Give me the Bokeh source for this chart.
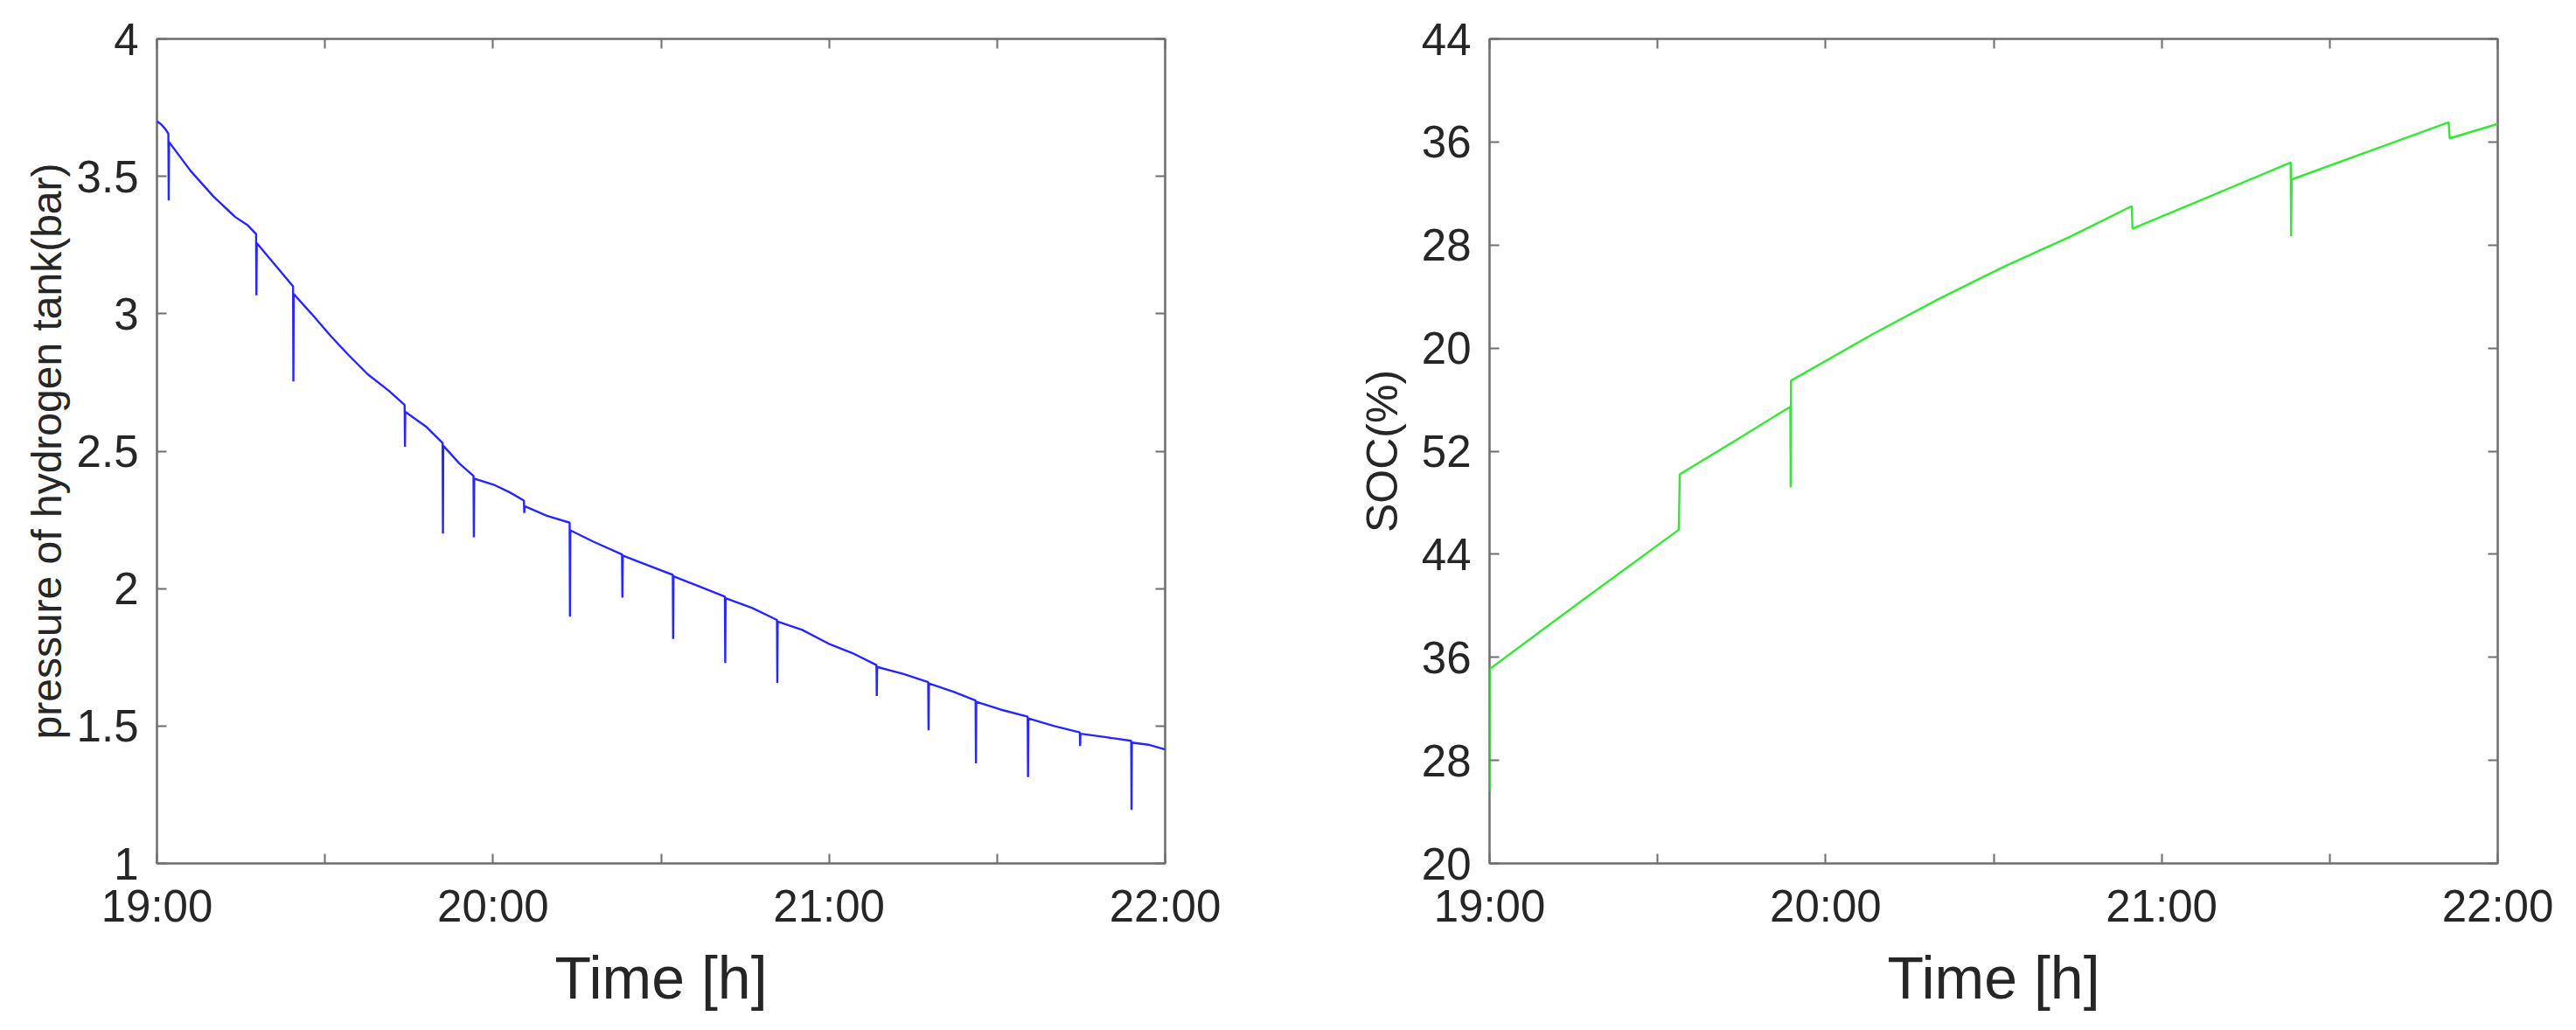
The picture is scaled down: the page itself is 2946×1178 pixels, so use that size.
from bokeh.plotting import figure
from bokeh.layouts import row
from bokeh.models import FixedTicker, LinearAxis, Range1d
from bokeh.embed import file_html
from bokeh.resources import INLINE

# ---------------- data ----------------
time_ticks = [19, 20, 21, 22]
time_labels = ["19:00", "20:00", "21:00", "22:00"]
time_half_ticks = [19.5, 20.5, 21.5]

pressure_ticks = [1, 1.5, 2, 2.5, 3, 3.5, 4]
pressure_labels = ["1", "1.5", "2", "2.5", "3", "3.5", "4"]

soc_ticks = [20, 28, 36, 44, 52, 60, 68, 76, 84]
soc_labels = ["20", "28", "36", "44", "52", "20", "28", "36", "44"]

# time in hours, pressure in bar (vertical spikes included as repeated times)
pressure_time = [
    19.000, 19.012, 19.025, 19.034, 19.035, 19.036, 19.100, 19.168, 19.232, 19.270,
    19.295, 19.296, 19.297, 19.350, 19.405, 19.406, 19.407, 19.460, 19.517, 19.570,
    19.627, 19.690, 19.737, 19.738, 19.739, 19.800, 19.850, 19.851, 19.852, 19.900,
    19.942, 19.943, 19.944, 20.006, 20.050, 20.092, 20.093, 20.094, 20.160, 20.228,
    20.229, 20.230, 20.300, 20.384, 20.385, 20.386, 20.460, 20.535, 20.536, 20.537,
    20.610, 20.690, 20.691, 20.692, 20.770, 20.845, 20.846, 20.847, 20.920, 20.998,
    21.070, 21.141, 21.142, 21.143, 21.220, 21.295, 21.296, 21.297, 21.370, 21.436,
    21.437, 21.438, 21.510, 21.591, 21.592, 21.593, 21.670, 21.746, 21.747, 21.748,
    21.820, 21.899, 21.900, 21.901, 21.950, 22.000,
]
pressure_bar = [
    3.700, 3.690, 3.672, 3.655, 3.412, 3.625, 3.520, 3.427, 3.353, 3.322,
    3.290, 3.067, 3.257, 3.180, 3.100, 2.754, 3.072, 3.000, 2.919, 2.850,
    2.780, 2.720, 2.668, 2.516, 2.643, 2.590, 2.530, 2.200, 2.520, 2.455,
    2.410, 2.187, 2.400, 2.376, 2.350, 2.320, 2.275, 2.300, 2.265, 2.240,
    1.898, 2.212, 2.170, 2.124, 1.967, 2.120, 2.085, 2.050, 1.817, 2.045,
    2.010, 1.971, 1.729, 1.965, 1.930, 1.886, 1.657, 1.880, 1.850, 1.800,
    1.765, 1.722, 1.609, 1.715, 1.690, 1.660, 1.484, 1.655, 1.625, 1.593,
    1.364, 1.588, 1.560, 1.534, 1.314, 1.528, 1.500, 1.477, 1.427, 1.472,
    1.460, 1.446, 1.195, 1.440, 1.432, 1.415,
]

# SOC in axis units (axis runs 20..84, labelled as in the source figure)
soc_time = [
    19.000, 19.001, 19.280, 19.563, 19.566, 19.730, 19.895, 19.896, 19.897, 20.141,
    20.337, 20.533, 20.728, 20.911, 20.913, 21.150, 21.384, 21.385, 21.387, 21.620,
    21.854, 21.857, 22.000,
]
soc_value = [
    25.6, 35.1, 40.5, 45.9, 50.2, 52.8, 55.45, 49.2, 57.47, 61.09,
    63.82, 66.35, 68.65, 71.02, 69.27, 71.85, 74.41, 68.69, 73.09, 75.30,
    77.53, 76.28, 77.40,
]

# ---------------- style ----------------
FONT = "Liberation Sans"
TXT = "#262626"
GRAY = "#6e6e6e"


def tick_style(ax):
    ax.axis_line_color = None
    ax.major_tick_in = 11
    ax.major_tick_out = 0
    ax.major_tick_line_color = GRAY
    ax.major_tick_line_width = 2
    ax.minor_tick_in = 11
    ax.minor_tick_out = 0
    ax.minor_tick_line_color = GRAY
    ax.minor_tick_line_width = 2


def style(p, yticks, ylabels, ylabel, ylabel_size, ylabel_standoff):
    p.outline_line_color = GRAY
    p.outline_line_width = 2.5
    p.xgrid.visible = False
    p.ygrid.visible = False
    p.background_fill_color = "white"
    p.border_fill_color = "white"

    xt = FixedTicker(ticks=time_ticks, minor_ticks=time_half_ticks)
    yt = FixedTicker(ticks=yticks, minor_ticks=[])

    xa = p.xaxis[0]
    xa.ticker = xt
    xa.major_label_overrides = dict(zip(time_ticks, time_labels))
    xa.axis_label = "Time [h]"
    xa.axis_label_text_font = FONT
    xa.axis_label_text_font_size = "68px"
    xa.axis_label_text_font_style = "normal"
    xa.axis_label_text_color = TXT
    xa.axis_label_standoff = 12
    xa.major_label_standoff = 20
    xa.major_label_text_font = FONT
    xa.major_label_text_font_size = "51px"
    xa.major_label_text_color = TXT

    ya = p.yaxis[0]
    ya.ticker = yt
    ya.major_label_overrides = dict(zip(yticks, ylabels))
    ya.axis_label = ylabel
    ya.axis_label_text_font = FONT
    ya.axis_label_text_font_size = ylabel_size
    ya.axis_label_text_font_style = "normal"
    ya.axis_label_text_color = TXT
    ya.axis_label_standoff = ylabel_standoff
    ya.major_label_standoff = 21
    ya.major_label_text_font = FONT
    ya.major_label_text_font_size = "51px"
    ya.major_label_text_color = TXT

    tick_style(xa)
    tick_style(ya)

    for loc, tk in (("above", xt), ("right", yt)):
        m = LinearAxis(ticker=tk)
        m.major_label_text_font_size = "1px"
        m.major_label_text_color = None
        m.major_label_standoff = 0
        tick_style(m)
        p.add_layout(m, loc)


p1 = figure(width=1510, height=1176, x_range=Range1d(19, 22), y_range=Range1d(1, 4),
            output_backend="svg", toolbar_location=None,
            min_border_left=179, min_border_right=178, min_border_top=43, min_border_bottom=189)
p1.line(pressure_time, pressure_bar, line_color="#2626ff", line_width=2.4)
style(p1, pressure_ticks, pressure_labels, "pressure of hydrogen tank(bar)", "48px", 5)

p2 = figure(width=1434, height=1176, x_range=Range1d(19, 22), y_range=Range1d(20, 84),
            output_backend="svg", toolbar_location=None,
            min_border_left=193, min_border_right=88, min_border_top=44, min_border_bottom=189)
p2.line(soc_time, soc_value, line_color="#33e833", line_width=2.4)
style(p2, soc_ticks, soc_labels, "SOC(%)", "50px", 14)

layout = row(p1, p2)
open("out.html", "w").write(file_html(layout, INLINE))
